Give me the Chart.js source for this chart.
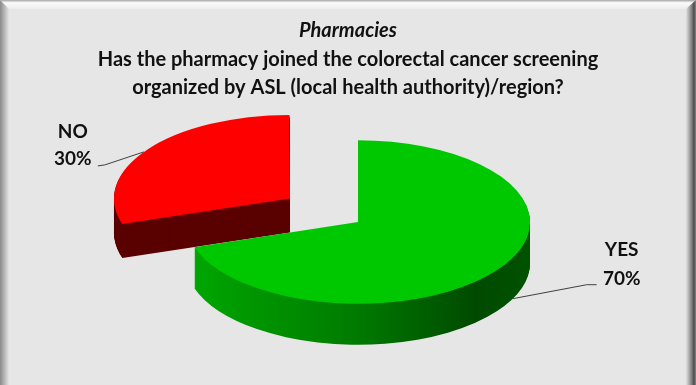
<!DOCTYPE html>
<html><head><meta charset="utf-8">
<script src="https://cdn.jsdelivr.net/npm/chart.js@4"></script>
<style>html,body{margin:0;padding:0;background:#e6e6e6}#wrap{width:696px;height:385px;position:relative}</style>
</head><body><div id="wrap"><canvas id="c"></canvas></div>
<script>
// ---- data ----
const titleLine = 'Pharmacies';
const questionLines = ['Has the pharmacy joined the colorectal cancer screening', 'organized by ASL (local health authority)/region?'];
const categories = ['YES', 'NO'];
const values = [70, 30];
const percentLabels = ['70%', '30%'];

// ---- style / layout ----
const topColors = ['#00c800', '#ff0000'];
const sliceOffsets = [0, 336];
const sideDepths = [41, 34];
const PIE = { radius: 172, tilt: 0.475, dx: 10 };
// label placement relative to an anchor on the slice edge
const labelLayout = [
  { frac: 0.46, depthFrac: 1.0, bend: [74, -14], end: [84, -14], text: [109, -49, -20] },
  { frac: 0.48, depthFrac: 0.0, bend: [-39, 13], end: [-46, 14], text: [-71, -20, 7] }
];

function pieCenter(chart) {
  const a = chart.chartArea;
  return { cx: (a.left + a.right) / 2, cy: (a.top + a.bottom) / 2 };
}
function tiltTransform(ctx, chart) {
  const { cx, cy } = pieCenter(chart);
  ctx.translate(cx + PIE.dx, cy);
  ctx.scale(1, PIE.tilt);
  ctx.translate(-cx, -cy);
}
function sideFill(ctx, chart, i) {
  if (i === 1) return '#5a0000';
  const { cx } = pieCenter(chart);
  const g = ctx.createLinearGradient(cx - PIE.radius, 0, cx + PIE.radius, 0);
  g.addColorStop(0, '#00a800');
  g.addColorStop(0.5, '#007a00');
  g.addColorStop(0.84, '#004a00');
  g.addColorStop(1, '#005200');
  return g;
}
function anchorPoint(chart, arc, lay, i) {
  const { cy } = pieCenter(chart);
  const fix = 1 - Math.sin(Math.min(Math.PI, arc.circumference || 0));
  const offs = (arc.options.offset || 0) / 4 * (1 + fix);
  const half = (arc.startAngle + arc.endAngle) / 2;
  const ang = arc.startAngle + (arc.endAngle - arc.startAngle) * lay.frac;
  const ux = arc.x + Math.cos(half) * offs + Math.cos(ang) * arc.outerRadius;
  const uy = arc.y + Math.sin(half) * offs + Math.sin(ang) * arc.outerRadius;
  return { x: ux + PIE.dx, y: cy + (uy - cy) * PIE.tilt + lay.depthFrac * sideDepths[i] };
}

const pie3d = {
  id: 'pie3d',
  beforeDraw(chart) {
    const ctx = chart.ctx, W = chart.width, H = chart.height;
    ctx.save();
    ctx.fillStyle = '#e6e6e6';
    ctx.fillRect(0, 0, W, H);
    const b = 9;
    ctx.beginPath(); ctx.moveTo(0, 0); ctx.lineTo(W, 0); ctx.lineTo(W - b - 1, b); ctx.lineTo(b, b); ctx.closePath();
    let g = ctx.createLinearGradient(0, 0, 0, b);
    g.addColorStop(0, '#a4a4a4'); g.addColorStop(0.3, '#fbfbfb'); g.addColorStop(1, '#ececec');
    ctx.fillStyle = g; ctx.fill();
    ctx.beginPath(); ctx.moveTo(0, 0); ctx.lineTo(b, b); ctx.lineTo(b, H); ctx.lineTo(0, H); ctx.closePath();
    g = ctx.createLinearGradient(0, 0, b, 0);
    g.addColorStop(0, '#8a8a8a'); g.addColorStop(1, '#e4e4e4');
    ctx.fillStyle = g; ctx.fill();
    ctx.beginPath(); ctx.moveTo(W, 0); ctx.lineTo(W, H); ctx.lineTo(W - b - 1, H); ctx.lineTo(W - b - 1, b); ctx.closePath();
    g = ctx.createLinearGradient(W - b - 1, 0, W, 0);
    g.addColorStop(0, '#e2e2e2'); g.addColorStop(0.6, '#7a7a7a'); g.addColorStop(0.8, '#4a4a4a'); g.addColorStop(1, '#8a8a8a');
    ctx.fillStyle = g; ctx.fill();
    ctx.restore();
  },
  beforeDatasetsDraw(chart) {
    const ctx = chart.ctx, meta = chart.getDatasetMeta(0);
    const maxDepth = Math.max(...sideDepths);
    for (let d = maxDepth; d >= 1; d--) {
      ctx.save();
      ctx.translate(0, d);
      tiltTransform(ctx, chart);
      meta.data.forEach((arc, i) => {
        if (d > sideDepths[i]) return;
        const face = Object.create(arc);
        face.options = Object.assign({}, arc.options, { backgroundColor: sideFill(ctx, chart, i), borderWidth: 0 });
        face.draw(ctx);
      });
      ctx.restore();
    }
    ctx.save();
    tiltTransform(ctx, chart);
  },
  afterDatasetsDraw(chart) {
    const ctx = chart.ctx, meta = chart.getDatasetMeta(0);
    ctx.restore();
    ctx.save();
    ctx.font = 'bold 19px Lato';
    ctx.fillStyle = '#111';
    ctx.textAlign = 'center';
    ctx.textBaseline = 'middle';
    meta.data.forEach((arc, i) => {
      const lay = labelLayout[i];
      const p = anchorPoint(chart, arc, lay, i);
      ctx.strokeStyle = '#404040';
      ctx.lineWidth = 1;
      ctx.beginPath();
      ctx.moveTo(p.x, p.y);
      ctx.lineTo(p.x + lay.bend[0], p.y + lay.bend[1]);
      ctx.lineTo(p.x + lay.end[0], p.y + lay.end[1]);
      ctx.stroke();
      ctx.fillText(categories[i], p.x + lay.text[0], p.y + lay.text[1]);
      ctx.fillText(percentLabels[i], p.x + lay.text[0], p.y + lay.text[2]);
    });
    ctx.restore();
  }
};

new Chart(document.getElementById('c'), {
  type: 'pie',
  data: {
    labels: categories,
    datasets: [{
      data: values,
      backgroundColor: topColors,
      borderWidth: 0,
      offset: sliceOffsets,
      clip: false
    }]
  },
  options: {
    responsive: true,
    maintainAspectRatio: false,
    animation: false,
    radius: PIE.radius,
    cutout: '0%',
    layout: { padding: { top: 0, bottom: 43, left: 0, right: 0 } },
    plugins: {
      legend: { display: false },
      tooltip: { enabled: false },
      title: {
        display: true, text: titleLine, color: '#111',
        font: { family: 'Lato', size: 20, style: 'italic', weight: 'bold', lineHeight: '22px' },
        padding: { top: 20, bottom: 3 }
      },
      subtitle: {
        display: true, text: questionLines, color: '#111',
        font: { family: 'Lato', size: 20, weight: 'bold', lineHeight: '28px' },
        padding: { top: 1, bottom: 0 }
      }
    }
  },
  plugins: [pie3d]
});
</script>
</body></html>
